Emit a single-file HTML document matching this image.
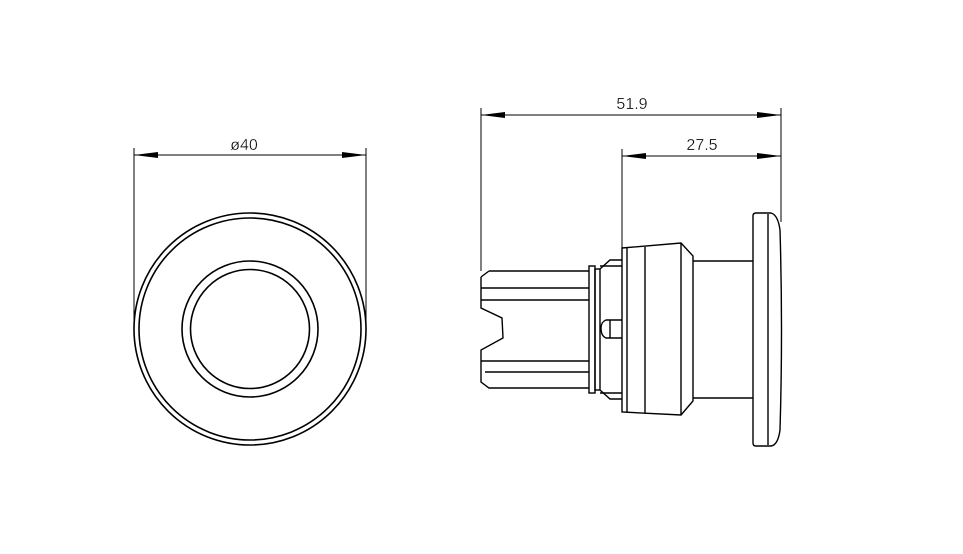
<!DOCTYPE html>
<html><head><meta charset="utf-8"><style>html,body{margin:0;padding:0;background:#fff}svg{display:block}</style></head>
<body>
<svg width="963" height="554" viewBox="0 0 963 554" xmlns="http://www.w3.org/2000/svg">
<defs>
<marker id="a" viewBox="0 0 24 6" refX="24" refY="3" markerWidth="24" markerHeight="6" markerUnits="userSpaceOnUse" orient="auto-start-reverse"><path d="M0,0 L24,3 L0,6 z" fill="#000"/></marker>
</defs>
<g fill="none" stroke="#000" stroke-width="1">
<line x1="134" y1="148" x2="134" y2="328"/>
<line x1="366" y1="148" x2="366" y2="328"/>
<line x1="134" y1="155" x2="366" y2="155" marker-start="url(#a)" marker-end="url(#a)"/>
<g stroke-width="1.6">
<circle cx="250" cy="329" r="116"/>
<circle cx="250" cy="329" r="111"/>
<circle cx="250" cy="329" r="68"/>
<circle cx="250" cy="329" r="59.5"/>
</g>
<line x1="481" y1="108" x2="481" y2="271"/>
<line x1="622" y1="149" x2="622" y2="248"/>
<line x1="781" y1="108" x2="781" y2="222"/>
<line x1="481" y1="115" x2="781" y2="115" marker-start="url(#a)" marker-end="url(#a)"/>
<line x1="622" y1="156" x2="781" y2="156" marker-start="url(#a)" marker-end="url(#a)"/>
<g stroke-width="1.4">
<path d="M489,271 L589,271 M481,277 L489,271 M481,277 L481,308 L502,318 L503,338 L481,350 L481,382 L489,388 L589,388"/>
<line x1="481" y1="288" x2="589" y2="288"/>
<line x1="481" y1="300" x2="589" y2="300"/>
<line x1="481" y1="361" x2="589" y2="361"/>
<line x1="485" y1="372" x2="589" y2="372"/>
<rect x="589" y="266" width="6" height="127"/>
<rect x="595" y="269" width="5" height="121"/>
<path d="M600,269 L610,260 L622,260 M600,390 L610,399 L622,399"/>
<line x1="600" y1="266" x2="622" y2="266"/>
<line x1="600" y1="393" x2="622" y2="393"/>
<path d="M622,320 L606,320 Q601,322 601,328 Q601,336 606,338 L622,338 M610,320 L610,338"/>
<path d="M622,248 L681,243 L693,256 L693,401 L681,415 L622,412 Z"/>
<line x1="627" y1="247" x2="627" y2="412"/>
<line x1="645" y1="247" x2="645" y2="413"/>
<line x1="681" y1="243" x2="681" y2="415"/>
<path d="M693,261 L753,261 M693,398 L753,398"/>
<path d="M756,213 L771,213 Q778,215 780,230 Q783,330 780,430 Q778,445 771,446 L756,446 Q753,446 753,443 L753,216 Q753,213 756,213 Z"/>
<line x1="768" y1="214" x2="768" y2="445"/>
</g>
</g>
<g font-family="'Liberation Sans',sans-serif" font-size="16" fill="#000" stroke="#fff" stroke-width="0.3" text-anchor="middle">
<text x="244" y="150">ø40</text>
<text x="632" y="109">51.9</text>
<text x="702" y="150">27.5</text>
</g>
</svg>
</body></html>
